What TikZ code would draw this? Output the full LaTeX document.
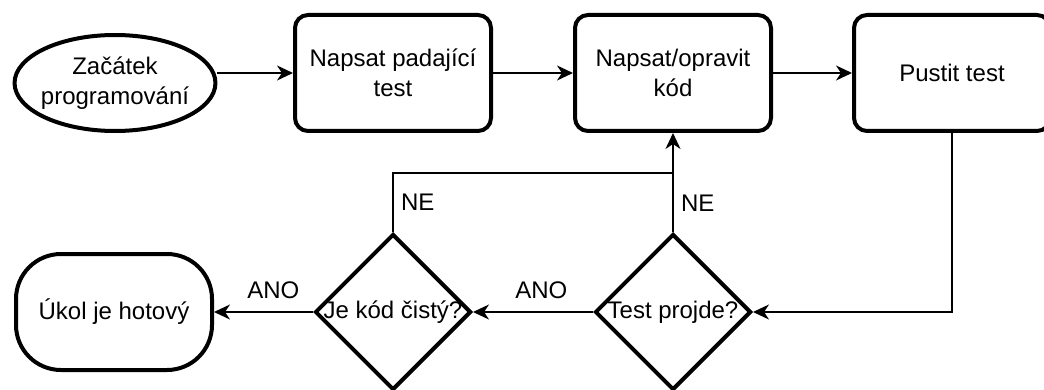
\documentclass[tikz,border=0pt]{standalone}
\usepackage{fontspec}
\setmainfont{Liberation Sans}
\usetikzlibrary{shapes.geometric,shapes.misc,arrows.meta,calc}

\begin{document}
\begin{tikzpicture}[x=1pt,y=1pt,
	every node/.style={font=\fontsize{24}{30}\selectfont},
	startnode/.style={ellipse,draw,line width=4pt,minimum width=196pt,minimum height=96pt,inner xsep=-3pt,inner ysep=0pt,align=center},
	procnode/.style={rectangle,rounded corners=13pt,draw,line width=4pt,minimum width=196pt,minimum height=116pt,align=center},
	decnode/.style={diamond,draw,line width=4pt,minimum width=156pt,minimum height=156pt,inner sep=0pt},
	endnode/.style={rectangle,rounded corners=45pt,draw,line width=4pt,minimum width=196pt,minimum height=116pt},
	flow/.style={line width=2pt,-{Stealth[length=16pt,width=15pt,inset=5pt]}},
	link/.style={line width=2pt},
	lbl/.style={inner sep=2pt},
	]
	\useasboundingbox (0,0) rectangle (1044,389);
	% top row
	\node (start) [startnode] at (115,306) {Začátek\\programování};
	\node (failtest) [procnode] at (393,316) {Napsat padající\\test};
	\node (code) [procnode] at (673,316) {Napsat/opravit\\kód};
	\node (run) [procnode] at (952,316) {Pustit test};
	% bottom row
	\node (pass) [decnode,label=center:{Test projde?}] at (673,77) {};
	\node (clean) [decnode,label=center:{Je kód čistý?}] at (393,77) {};
	\node (done) [endnode] at (114,77) {Úkol je hotový};
	\coordinate (join) at ($(pass.north)!0.6!(code.south)$);

	\draw[flow] (start.east |- failtest.west) -- (failtest.west);
	\draw[flow] (failtest.east) -- (code.west);
	\draw[flow] (code.east) -- (run.west);
	\draw[flow] (run.south) |- (pass.east);
	\draw[flow] (pass.west) -- node[lbl,pos=0.43,above=10pt]{ANO} (clean.east);
	\draw[flow] (clean.west) -- node[lbl,pos=0.4,above=10pt]{ANO} (done.east);
	\draw[flow] (pass.north) -- node[lbl,pos=0.29,right=5pt]{NE} (code.south);
	\draw[link] (clean.north) |- node[lbl,pos=0.25,right=5pt]{NE} (join);
\end{tikzpicture}
\end{document}
